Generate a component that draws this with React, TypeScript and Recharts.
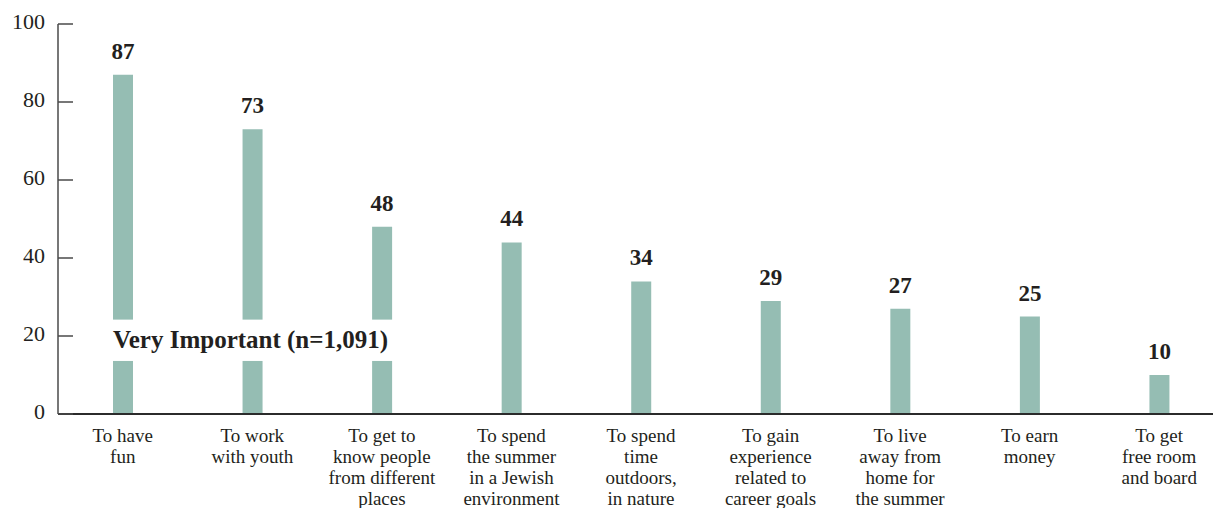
import React from 'react';
import { BarChart, Bar, XAxis, YAxis, LabelList } from 'recharts';

// Reasons for working at camp, share rating each "very important"
const categories = [
  'To have\nfun',
  'To work\nwith youth',
  'To get to\nknow people\nfrom different\nplaces',
  'To spend\nthe summer\nin a Jewish\nenvironment',
  'To spend\ntime\noutdoors,\nin nature',
  'To gain\nexperience\nrelated to\ncareer goals',
  'To live\naway from\nhome for\nthe summer',
  'To earn\nmoney',
  'To get\nfree room\nand board',
];
const veryImportant = [87, 73, 48, 44, 34, 29, 27, 25, 10];
const yTicks = [0, 20, 40, 60, 80, 100];
const groupLabel = 'Very Important (n=1,091)';
// caption band (value range) knocked out of the first bars
const captionBand = [13.6, 24.2];
const captionBars = 3;
const captionAt = 1;

const data = categories.map((name, i) => ({ name, value: veryImportant[i] }));

const FONT = '"Liberation Serif", "DejaVu Serif", serif';
const TEXT = '#231f20';
const BAR = '#95bdb3';

const CategoryTick = (props: any) => {
  const { x, y, payload } = props;
  const lines = String(payload.value).split('\n');
  return (
    <text x={x} y={y} textAnchor="middle" fontFamily={FONT} fontSize={19} fill={TEXT}>
      {lines.map((ln, i) => (
        <tspan key={i} x={x} dy={i === 0 ? 20 : 21}>
          {ln}
        </tspan>
      ))}
    </text>
  );
};

const ValueTick = (props: any) => {
  const { x, y, payload } = props;
  return (
    <g>
      <line x1={x + 13} x2={x + 28} y1={y} y2={y} stroke="#4a4a4a" strokeWidth={1.5} />
      <text x={x} y={y} dy={5} textAnchor="end" fontFamily={FONT} fontSize={22} fill={TEXT}>
        {payload.value}
      </text>
    </g>
  );
};

const ValueLabel = (props: any) => {
  const { x, y, width, value } = props;
  return (
    <text
      x={x + width / 2}
      y={y - 16}
      textAnchor="middle"
      fontFamily={FONT}
      fontWeight="bold"
      fontSize={23}
      fill={TEXT}
    >
      {value}
    </text>
  );
};

// pixel y of a value, derived from the bar's own geometry
const valueToY = (props: any, v: number) => {
  const { y, height, value } = props;
  const base = y + height;
  return base - (v * height) / value;
};

const KnockOut = (props: any) => {
  const { x, width, index } = props;
  if (index >= captionBars) return null;
  const top = valueToY(props, captionBand[1]);
  const bottom = valueToY(props, captionBand[0]);
  return <rect x={x - 1} y={top} width={width + 2} height={bottom - top} fill="#ffffff" />;
};

const Caption = (props: any) => {
  const { x, width, index } = props;
  if (index !== captionAt) return null;
  const mid = (valueToY(props, captionBand[0]) + valueToY(props, captionBand[1])) / 2;
  return (
    <text
      x={x + width / 2 - 2}
      y={mid}
      dy={8}
      textAnchor="middle"
      fontFamily={FONT}
      fontWeight="bold"
      fontSize={25}
      fill={TEXT}
    >
      {groupLabel}
    </text>
  );
};

export default function App() {
  return (
    <div style={{ position: 'absolute', left: 0, top: 0, width: 1213, height: 508, overflow: 'hidden', background: '#fff' }}>
      <BarChart
        width={1224}
        height={508}
        data={data}
        margin={{ top: 24, right: 0, bottom: 0, left: 0 }}
        barSize={20}
      >
        <XAxis
          dataKey="name"
          interval={0}
          height={94}
          tickLine={false}
          axisLine={{ stroke: '#2b2b2b', strokeWidth: 2 }}
          tick={<CategoryTick />}
        />
        <YAxis
          width={58}
          domain={[0, 100]}
          ticks={yTicks}
          interval={0}
          tickLine={false}
          tickSize={0}
          tickMargin={13}
          axisLine={{ stroke: '#4a4a4a', strokeWidth: 1.5 }}
          tick={<ValueTick />}
        />
        <Bar dataKey="value" fill={BAR} isAnimationActive={false}>
          <LabelList dataKey="value" content={<ValueLabel />} />
          <LabelList dataKey="value" content={<KnockOut />} />
          <LabelList dataKey="value" content={<Caption />} />
        </Bar>
      </BarChart>
    </div>
  );
}
